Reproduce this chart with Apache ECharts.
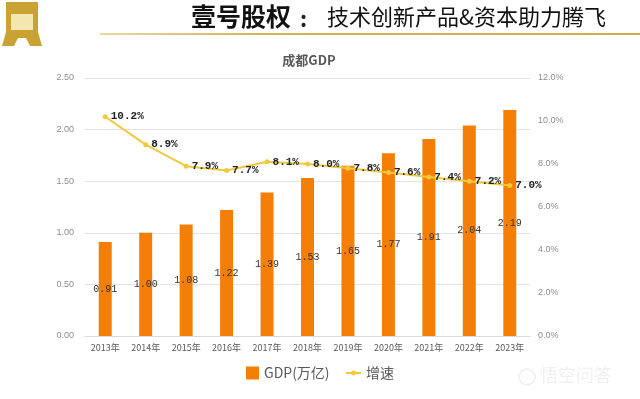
<!DOCTYPE html>
<html>
<head>
<meta charset="utf-8">
<script src="https://cdn.jsdelivr.net/npm/echarts@6/dist/echarts.min.js"></script>
<style>
  html, body { margin: 0; padding: 0; background: #fff; }
  #chart { width: 640px; height: 399px; }
</style>
</head>
<body>
<div id="chart"></div>
<script>
  // 年份、GDP(万亿)、增速(%)
  var years = ['2013年', '2014年', '2015年', '2016年', '2017年', '2018年', '2019年', '2020年', '2021年', '2022年', '2023年'];
  var gdp = [0.91, 1.00, 1.08, 1.22, 1.39, 1.53, 1.65, 1.77, 1.91, 2.04, 2.19];
  var growth = [10.2, 8.9, 7.9, 7.7, 8.1, 8.0, 7.8, 7.6, 7.4, 7.2, 7.0];

  var cjk = '"Noto Sans CJK SC", "Noto Sans", sans-serif';
  var mono = '"Liberation Mono", "Noto Sans CJK SC", monospace';

  var myChart = echarts.init(document.getElementById('chart'));
  var option = {
    backgroundColor: '#fff',
    animation: false,
    title: {
      text: '成都GDP',
      left: 304,
      textAlign: 'center',
      top: 49,
      textStyle: { fontSize: 13, fontWeight: 'bold', color: '#595959', fontFamily: cjk }
    },
    graphic: [
      // 页眉标题
      {
        type: 'text', left: 191, top: 4,
        style: { text: '壹号股权', font: 'bold 25px ' + cjk, fill: '#111' }
      },
      {
        type: 'text', left: 300, top: 8,
        style: { text: ':', font: 'bold 22px ' + cjk, fill: '#222' }
      },
      {
        type: 'text', left: 327, top: 6,
        style: { text: '技术创新产品&资本助力腾飞', font: '22px ' + cjk, fill: '#111' }
      },
      {
        type: 'rect', shape: { x: 100, y: 33, width: 540, height: 2 },
        style: {
          fill: new echarts.graphic.LinearGradient(0, 0, 1, 0, [
            { offset: 0, color: '#e8d7a0' },
            { offset: 0.3, color: '#d4b35a' },
            { offset: 1, color: '#d0ac4c' }
          ])
        }
      },
      // 左上角logo
      {
        type: 'polygon',
        shape: { points: [[6, 2], [38, 2], [38, 32], [42, 46], [30, 46], [26, 38], [18, 38], [14, 46], [2, 46], [6, 32]] },
        style: { fill: '#c9a233' }
      },
      {
        type: 'rect', shape: { x: 11, y: 14, width: 22, height: 16 },
        style: { fill: '#f3e6b0' }
      },
      // 水印
      {
        type: 'text', left: 540, top: 366,
        style: { text: '悟空问答', font: '18px ' + cjk, fill: '#f0f0f0' }
      },
      {
        type: 'circle', shape: { cx: 527, cy: 377, r: 8 },
        style: { fill: 'none', stroke: '#f0f0f0', lineWidth: 2 }
      }
    ],
    legend: [
      {
        left: 241,
        top: 361,
        itemWidth: 13,
        itemHeight: 13,
        textStyle: { fontSize: 14, color: '#595959', fontFamily: cjk },
        data: [{ name: 'GDP(万亿)', icon: 'rect' }]
      },
      {
        left: 340,
        top: 361,
        itemWidth: 15,
        itemHeight: 6,
        textStyle: { fontSize: 14, color: '#595959', fontFamily: cjk },
        data: [{ name: '增速' }]
      }
    ],
    grid: { left: 85, right: 110, top: 78, bottom: 63 },
    xAxis: {
      type: 'category',
      data: years,
      axisLine: { lineStyle: { color: '#d9d9d9' } },
      axisTick: { show: false },
      axisLabel: { interval: 0, color: '#595959', fontSize: 9, fontFamily: cjk, margin: 7 }
    },
    yAxis: [
      {
        type: 'value', min: 0, max: 2.5, interval: 0.5,
        axisLine: { show: false }, axisTick: { show: false },
        axisLabel: { color: '#8c8c8c', fontSize: 9, margin: 11, formatter: function (v) { return v.toFixed(2); } },
        splitLine: { lineStyle: { color: '#e3e3e3' } }
      },
      {
        type: 'value', min: 0, max: 12, interval: 2,
        axisLine: { show: false }, axisTick: { show: false },
        axisLabel: { color: '#8c8c8c', fontSize: 9, margin: 8, formatter: function (v) { return v.toFixed(1) + '%'; } },
        splitLine: { show: false }
      }
    ],
    series: [
      {
        name: 'GDP(万亿)',
        type: 'bar',
        data: gdp,
        barWidth: 13,
        itemStyle: { color: '#f57e07' },
        label: {
          show: true, position: 'inside', color: '#333', fontSize: 10, fontFamily: mono,
          formatter: function (p) { return p.value.toFixed(2); }
        }
      },
      {
        name: '增速',
        type: 'line',
        yAxisIndex: 1,
        data: growth,
        symbol: 'circle',
        symbolSize: 5,
        lineStyle: { color: '#f0c93c', width: 2 },
        itemStyle: { color: '#f0c93c' },
        label: {
          show: true, position: 'right', distance: 3, color: '#222', fontSize: 11, fontWeight: 'bold', fontFamily: mono,
          formatter: function (p) { return p.value.toFixed(1) + '%'; }
        }
      }
    ]
  };
  myChart.setOption(option);
</script>
</body>
</html>
